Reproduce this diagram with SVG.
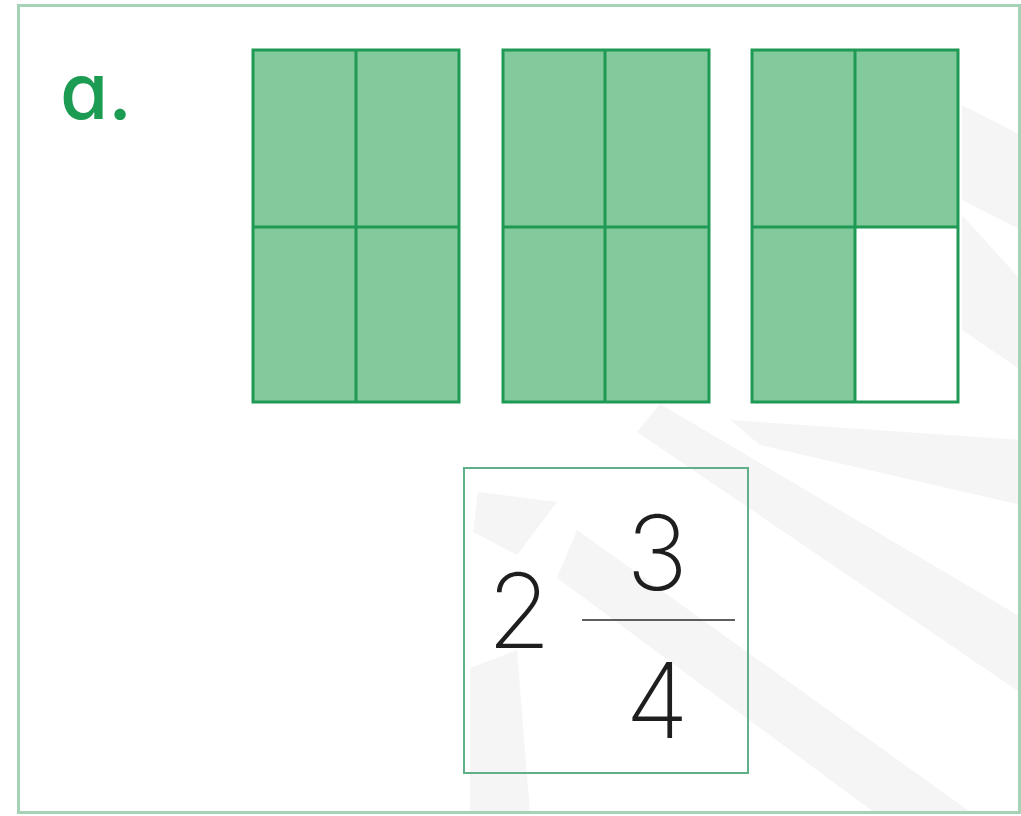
<svg xmlns="http://www.w3.org/2000/svg" width="1021" height="816" viewBox="0 0 1021 816">
<style>
.wm{fill:#f5f5f5}
.cell{fill:#82c99b}
.blank{fill:#ffffff}
.grid{fill:none;stroke:#1f9a55;stroke-width:3}
.num{font-family:Inter,"Noto Sans","Liberation Sans",sans-serif;font-weight:200;font-size:104px;fill:#1e1e1e;text-anchor:middle}
.lbl{font-family:Inter,"Noto Sans","Liberation Sans",sans-serif;font-weight:500;font-size:78px;fill:#1c9b52;font-feature-settings:"cv11"}
</style>
<rect x="0" y="0" width="1021" height="816" fill="#ffffff"/>
<g id="watermark">
<polygon class="wm" points="962,105 1021,135 1021,230 962,200"/>
<polygon class="wm" points="962,215 1021,280 1021,370 962,330"/>
<polygon class="wm" points="730,420 1021,440 1021,505 760,445"/>
<polygon class="wm" points="660,404 1021,617 1021,693 637,432"/>
<polygon class="wm" points="577,530 972,813 875,813 557,578"/>
<polygon class="wm" points="478,492 557,502 517,555 473,532"/>
<polygon class="wm" points="470,668 517,650 530,813 470,813"/>
</g>
<rect id="frame" x="18.5" y="5.5" width="1001" height="807" fill="none" stroke="#a6d3b6" stroke-width="3"/>
<g id="label-a">
<text class="lbl" x="60" y="119">a.</text>
</g>
<g id="rect1">
<rect class="cell" x="253" y="50" width="206" height="352"/>
<rect class="grid" x="253" y="50" width="206" height="352"/>
<line class="grid" x1="356" y1="50" x2="356" y2="402"/>
<line class="grid" x1="253" y1="227" x2="459" y2="227"/>
</g>
<g id="rect2">
<rect class="cell" x="503" y="50" width="206" height="352"/>
<rect class="grid" x="503" y="50" width="206" height="352"/>
<line class="grid" x1="605" y1="50" x2="605" y2="402"/>
<line class="grid" x1="503" y1="227" x2="709" y2="227"/>
</g>
<g id="rect3">
<rect class="cell" x="752" y="50" width="206" height="352"/>
<rect class="blank" x="855" y="227" width="103" height="175"/>
<rect class="grid" x="752" y="50" width="206" height="352"/>
<line class="grid" x1="855" y1="50" x2="855" y2="402"/>
<line class="grid" x1="752" y1="227" x2="958" y2="227"/>
</g>
<g id="answer-box">
<rect x="464" y="468" width="284" height="305" fill="none" stroke="#5faf88" stroke-width="2"/>
<text class="num" x="519" y="648">2</text>
<text class="num" x="657" y="590">3</text>
<line x1="582" y1="620" x2="735" y2="620" stroke="#2a2a2a" stroke-width="1.6"/>
<text class="num" x="657" y="738">4</text>
</g>
</svg>
